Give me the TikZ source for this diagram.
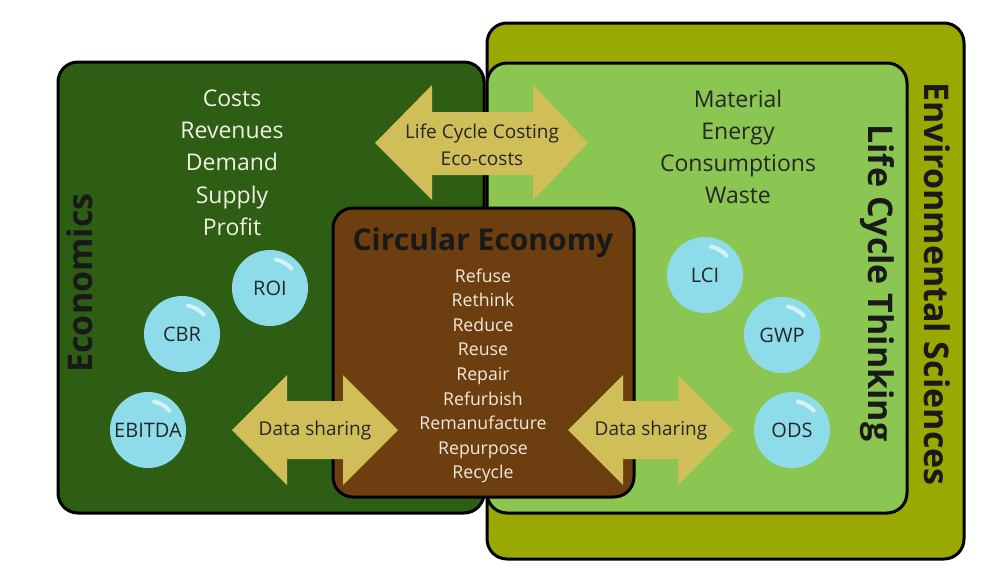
\documentclass[tikz,border=0pt]{standalone}
\usepackage{fontspec}
\setmainfont{Open Sans}
\definecolor{olivec}{RGB}{154,168,2}
\definecolor{lightg}{RGB}{139,198,82}
\definecolor{darkg}{RGB}{46,94,19}
\definecolor{brownc}{RGB}{108,62,16}
\definecolor{arrowc}{RGB}{208,190,88}
\definecolor{bubblec}{RGB}{142,220,234}
\definecolor{paletxt}{RGB}{238,240,228}
\definecolor{creamtxt}{RGB}{243,234,220}
\begin{document}
\begin{tikzpicture}[x=1pt,y=-1pt,
  box/.style={draw=black, line width=3pt, rounded corners=20pt, inner sep=0pt},
  arrowfill/.style={fill=arrowc, draw=none},
  bubble/.style={circle, fill=bubblec, minimum size=76pt, inner sep=0pt,
    font=\fontsize{20}{22}\selectfont, text=black!85},
  shine/.style={draw=white, opacity=0.65, line width=4pt, line cap=round},
  listw/.style={align=center, text=paletxt, font=\fontsize{23}{32.3}\selectfont},
  listd/.style={align=center, text=black!85, font=\fontsize{23}{32.3}\selectfont},
  listce/.style={align=center, text=creamtxt, font=\fontsize{17.7}{24.6}\selectfont},
  arrtxt/.style={align=center, text=black!85, font=\fontsize{19}{27}\selectfont},
  title/.style={font=\bfseries\fontsize{34}{38}\selectfont, text=black!90}
]
\useasboundingbox (0,0) rectangle (1001,570);
\fill[white] (0,0) rectangle (1001,570);

% boxes
\node[box, fill=olivec, minimum width=477pt, minimum height=536pt] (env) at (725.5,291) {};
\node[box, fill=lightg, minimum width=420pt, minimum height=450pt] (lct) at (697,288) {};
\node[box, fill=darkg, minimum width=426pt, minimum height=451pt] (eco) at (271,287.5) {};
\node[box, fill=brownc, minimum width=301pt, minimum height=289pt] (ce) at (483.5,352.5) {};

% titles
\node[title, rotate=90] (ecot) at (80,283) {Economics};
\node[title, rotate=-90] (lctt) at (877,283) {Life Cycle Thinking};
\node[title, rotate=-90] (envt) at (937,284) {Environmental Sciences};
\node[title, font=\bfseries\fontsize{30}{32}\selectfont] (cet) at (483,243) {Circular Economy};

% lists
\node[listw, anchor=north] (ecolist) at (232,86) {Costs\\Revenues\\Demand\\Supply\\Profit};
\node[listd, anchor=north] (lctlist) at (738,86) {Material\\Energy\\Consumptions\\Waste};
\node[listce, anchor=north] (celist) at (483,265) {Refuse\\Rethink\\Reduce\\Reuse\\Repair\\Refurbish\\Remanufacture\\Repurpose\\Recycle};

% arrows
\fill[arrowfill] (375,143) -- (432,85) -- (432,112) -- (533,112) -- (533,85) -- (588,143)
  -- (533,200) -- (533,175) -- (432,175) -- (432,200) -- cycle;
\fill[arrowfill] (232,430) -- (287,375) -- (287,401) -- (343,401) -- (343,375) -- (398,430)
  -- (343,485) -- (343,459) -- (287,459) -- (287,485) -- cycle;
\fill[arrowfill] (568,430) -- (623,375) -- (623,401) -- (678,401) -- (678,375) -- (733,430)
  -- (678,485) -- (678,459) -- (623,459) -- (623,485) -- cycle;
\node[arrtxt] (lcc) at (482,145) {Life Cycle Costing\\Eco-costs};
\node[arrtxt] (ds1) at (315,431) {Data sharing};
\node[arrtxt] (ds2) at (651,431) {Data sharing};

% bubbles
\node[bubble] (roi) at (270,288) {ROI};
\node[bubble] (cbr) at (182,334) {CBR};
\node[bubble] (ebitda) at (148,430) {EBITDA};
\node[bubble] (lci) at (705,275) {LCI};
\node[bubble] (gwp) at (782,335) {GWP};
\node[bubble] (ods) at (792,430) {ODS};
\foreach \b in {roi,cbr,ebitda,lci,gwp,ods}{
  \draw[shine] (\b.center) ++(-78:29) arc[start angle=-78, end angle=-42, radius=29];
}
\end{tikzpicture}
\end{document}
